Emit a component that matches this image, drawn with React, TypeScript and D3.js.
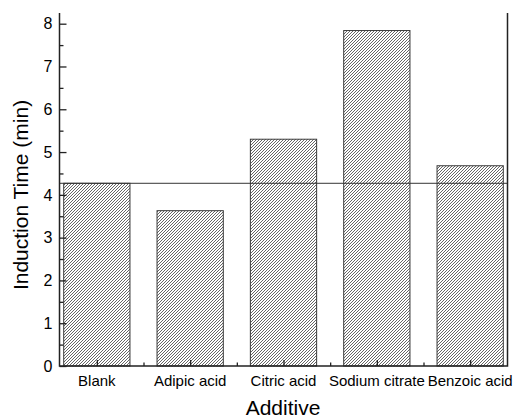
import React, { useEffect, useRef } from 'react'
import * as d3 from 'd3'

// data
const categories = ['Blank', 'Adipic acid', 'Citric acid', 'Sodium citrate', 'Benzoic acid']
const inductionTime = [4.27, 3.63, 5.3, 7.84, 4.68]
const yTicks = [0, 1, 2, 3, 4, 5, 6, 7, 8]
const blankLevel = 4.27

const App = () => {
  const svgRef = useRef<SVGSVGElement>(null)

  function drawChart() {
    const width = 514
    const height = 419
    const left = 59.5
    const right = 507.5
    const top = 13
    const bottom = 366
    const font = 'Arial, "Liberation Sans", Helvetica, sans-serif'

    const svg = d3.select(svgRef.current)
    svg.selectAll('*').remove()
    svg.attr('width', width).attr('height', height)

    // hatch pattern
    const pattern = svg
      .append('defs')
      .append('pattern')
      .attr('id', 'hatch')
      .attr('patternUnits', 'userSpaceOnUse')
      .attr('width', 3)
      .attr('height', 3)
    pattern.append('rect').attr('width', 3).attr('height', 3).attr('fill', '#fff')
    pattern
      .append('path')
      .attr('d', 'M-1,1 l2,-2 M0,3 l3,-3 M2,4 l2,-2')
      .attr('stroke', '#555')
      .attr('stroke-width', 0.9)

    // x: bars sit on 1..5
    const xScale = d3.scaleLinear().domain([0.6, 5.4]).range([left, right])
    const yScale = d3.scaleLinear().domain([0, 8.25]).range([bottom, top])
    const barW = xScale(1.71) - xScale(1)

    // bars
    svg
      .append('g')
      .selectAll('rect')
      .data(inductionTime)
      .enter()
      .append('rect')
      .attr('x', (d, i) => xScale(i + 1) - barW / 2)
      .attr('y', (d) => yScale(d))
      .attr('width', barW)
      .attr('height', (d) => yScale(0) - yScale(d))
      .attr('fill', 'url(#hatch)')
      .attr('stroke', '#3a3a3a')
      .attr('stroke-width', 1)

    // reference line at blank level
    svg
      .append('line')
      .attr('x1', left)
      .attr('x2', right)
      .attr('y1', yScale(blankLevel))
      .attr('y2', yScale(blankLevel))
      .attr('stroke', '#333')
      .attr('stroke-width', 1)

    // left axis, ticks inward
    const yAxis = d3
      .axisRight(yScale)
      .tickValues(yTicks)
      .tickSize(7)
      .tickFormat(() => '')
    const gy = svg.append('g').attr('transform', `translate(${left},0)`).call(yAxis)
    gy.select('.domain').remove()
    const yMinor = d3
      .axisRight(yScale)
      .tickValues(d3.range(0.5, 8.25, 1))
      .tickSize(4)
      .tickFormat(() => '')
    const gy2 = svg.append('g').attr('transform', `translate(${left},0)`).call(yMinor)
    gy2.select('.domain').remove()

    svg
      .append('g')
      .selectAll('text')
      .data(yTicks)
      .enter()
      .append('text')
      .attr('x', left - 7)
      .attr('y', (d) => yScale(d))
      .attr('dy', '0.36em')
      .attr('text-anchor', 'end')
      .style('font-family', font)
      .style('font-size', '16px')
      .text((d) => d)

    // bottom axis, ticks inward
    const xAxis = d3
      .axisTop(xScale)
      .tickValues([1, 2, 3, 4, 5])
      .tickSize(6)
      .tickFormat(() => '')
    const gx = svg.append('g').attr('transform', `translate(0,${bottom})`).call(xAxis)
    gx.select('.domain').remove()
    const xMinor = d3
      .axisTop(xScale)
      .tickValues([1.5, 2.5, 3.5, 4.5])
      .tickSize(3.5)
      .tickFormat(() => '')
    const gx2 = svg.append('g').attr('transform', `translate(0,${bottom})`).call(xMinor)
    gx2.select('.domain').remove()
    svg.selectAll('.tick line').attr('stroke', '#222').attr('stroke-width', 1.3)

    svg
      .append('g')
      .selectAll('text')
      .data(categories)
      .enter()
      .append('text')
      .attr('x', (d, i) => xScale(i + 1))
      .attr('y', 386)
      .attr('text-anchor', 'middle')
      .style('font-family', font)
      .style('font-size', '15px')
      .text((d) => d)

    // frame lines (left, bottom, right)
    svg
      .append('path')
      .attr('d', `M${left},${top} V${bottom} H${right} V${top}`)
      .attr('fill', 'none')
      .attr('stroke', '#222')
      .attr('stroke-width', 1.5)

    // titles
    svg
      .append('text')
      .attr('x', 283)
      .attr('y', 415)
      .attr('text-anchor', 'middle')
      .style('font-family', font)
      .style('font-size', '21px')
      .text('Additive')

    svg
      .append('text')
      .attr('transform', 'translate(28,195) rotate(-90)')
      .attr('text-anchor', 'middle')
      .style('font-family', font)
      .style('font-size', '21px')
      .text('Induction Time (min)')
  }

  useEffect(() => {
    drawChart()
  }, [])

  return (
    <div style={{ position: 'absolute', left: 0, top: 0, background: '#fff' }}>
      <svg ref={svgRef} style={{ display: 'block' }}></svg>
    </div>
  )
}

export default App
